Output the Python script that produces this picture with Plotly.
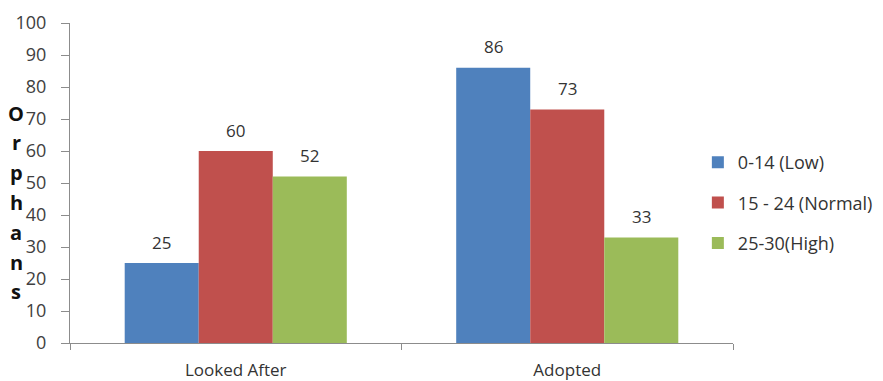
import plotly.graph_objects as go

categories = ["Looked After", "Adopted"]
series_names = ["0-14 (Low)", "15 - 24 (Normal)", "25-30(High)"]
low_values = [25, 86]
normal_values = [60, 73]
high_values = [52, 33]
colors = ["#4F81BD", "#C0504D", "#9BBB59"]
y_ticks = list(range(0, 101, 10))
y_title = "Orphans"

FONT = "'Open Sans', sans-serif"
TEXT_COLOR = "#333333"
SIZE = 17

# Plot-area geometry (pixels)
W, H = 883, 381
ML, MR, MT, MB = 70, 150, 23, 38
BARGAP = 0.33
plot_w = W - ML - MR
plot_h = H - MT - MB
bar_px = plot_w / len(categories) * (1 - BARGAP) / len(series_names)

fig = go.Figure()
all_values = [low_values, normal_values, high_values]
for i, (name, vals, col) in enumerate(zip(series_names, all_values, colors)):
    fig.add_trace(go.Bar(
        x=categories, y=vals, name=name, legendgroup=name,
        marker=dict(color=col, line=dict(width=0)),
    ))
    # value labels above each bar
    shift = (i - (len(series_names) - 1) / 2) * bar_px
    for cat, v in zip(categories, vals):
        fig.add_annotation(
            x=cat, y=v, xref="x", yref="y", text=str(v),
            showarrow=False, xshift=shift, yshift=21,
            font=dict(size=SIZE, color=TEXT_COLOR, family=FONT),
        )

fig.update_layout(
    width=W, height=H,
    margin=dict(l=ML, r=MR, t=MT, b=MB, autoexpand=False),
    paper_bgcolor="white", plot_bgcolor="white",
    barmode="group", bargap=BARGAP, bargroupgap=0,
    font=dict(family=FONT, color=TEXT_COLOR),
    showlegend=True,
    legend=dict(
        x=0.947, y=1 - (203 - MT) / plot_h, xanchor="left", yanchor="middle",
        font=dict(size=18, color=TEXT_COLOR, family=FONT),
        itemwidth=30, tracegroupgap=14,
        traceorder="grouped", bgcolor="rgba(0,0,0,0)",
    ),
)

fig.update_xaxes(
    showline=True, linecolor="#8C8C8C", linewidth=1,
    ticks="outside", ticklen=6, tickcolor="#8C8C8C",
    tickson="boundaries",
    tickfont=dict(size=SIZE, color=TEXT_COLOR, family=FONT),
    ticklabelstandoff=12,
    showgrid=False, zeroline=False,
)
fig.update_yaxes(
    range=[0, 100], tickvals=y_ticks,
    showline=True, linecolor="#8C8C8C", linewidth=1,
    ticks="outside", ticklen=8, tickcolor="#8C8C8C",
    tickfont=dict(size=18, color="#404040", family=FONT),
    ticklabelstandoff=11,
    showgrid=False, zeroline=False,
)

# Vertical stacked axis title, one letter per line
top_px, step_px = 113, 29.8
for k, ch in enumerate(y_title):
    ypix = top_px + k * step_px
    fig.add_annotation(
        text=ch, xref="paper", yref="paper",
        x=(16 - ML) / plot_w, y=1 - (ypix - MT) / plot_h,
        xanchor="center", yanchor="middle", showarrow=False,
        font=dict(size=20, color="#111111", family=FONT, weight="bold"),
    )

fig.write_html("out.html")
